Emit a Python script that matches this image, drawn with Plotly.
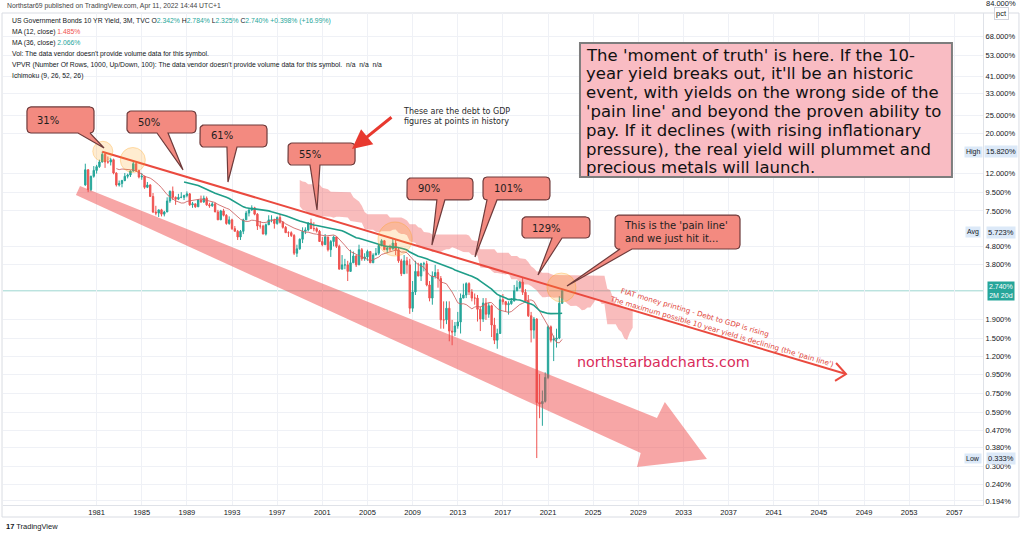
import numpy as np
import plotly.graph_objects as go

# ---------------- DATA: US 10Y yield (TVC), quarterly candles from 1980Q1 ----------------
start_year = 1980
opens = [
    10.40, 12.60, 9.80, 11.60,   12.50, 13.10, 13.90, 15.30,   13.90, 13.90, 14.30, 12.10,
    10.40, 10.60, 11.00, 11.60,  11.80, 12.40, 13.60, 12.50,   11.50, 11.60, 10.10, 10.40,
    9.00, 7.40, 7.30, 7.60,      7.20, 7.40, 8.50, 9.60,       8.90, 8.70, 8.90, 8.90,
    9.10, 9.30, 8.10, 8.20,      7.90, 8.60, 8.40, 8.80,       8.10, 8.00, 8.20, 7.40,
    6.70, 7.50, 7.10, 6.40,      6.70, 6.00, 5.80, 5.40,       5.80, 6.70, 7.30, 7.60,
    7.80, 7.20, 6.20, 6.20,      5.60, 6.30, 6.70, 6.70,       6.40, 6.90, 6.50, 6.10,
    5.70, 5.70, 5.50, 4.40,      4.65, 5.25, 5.80, 5.90,       6.45, 6.00, 6.00, 5.80,
    5.10, 4.90, 5.40, 4.60,      5.10, 5.40, 4.80, 3.60,       3.80, 3.80, 3.50, 3.90,
    4.25, 3.80, 4.60, 4.10,      4.20, 4.50, 3.90, 4.30,       4.40, 4.85, 5.15, 4.60,
    4.70, 4.65, 5.00, 4.60,      4.00, 3.40, 4.00, 3.80,       2.20, 2.70, 3.50, 3.30,
    3.85, 3.85, 2.95, 2.50,      3.30, 3.45, 3.20, 1.90,       1.90, 2.20, 1.65, 1.63,
    1.76, 1.85, 2.50, 2.60,      3.00, 2.70, 2.50, 2.50,       2.17, 1.92, 2.35, 2.04,
    2.27, 1.78, 1.47, 1.60,      2.45, 2.39, 2.30, 2.33,       2.41, 2.74, 2.86, 3.06,
    2.69, 2.41, 2.00, 1.67,      1.92, 0.67, 0.66, 0.68,       0.92, 1.74, 1.47, 1.49,
    1.51, 2.342]
highs = [
    13.60, 12.70, 11.70, 13.20,  13.40, 14.30, 15.82, 15.70,   14.90, 14.60, 14.50, 12.20,
    11.00, 11.10, 12.10, 12.00,  12.50, 13.90, 13.80, 12.60,   12.10, 11.70, 10.80, 10.50,
    9.40, 8.00, 7.60, 7.70,      7.50, 8.90, 9.70, 10.20,      9.00, 9.30, 9.50, 9.20,
    9.60, 9.40, 8.40, 8.20,      8.70, 9.10, 9.10, 9.00,       8.30, 8.40, 8.30, 7.60,
    7.60, 7.70, 7.20, 7.00,      6.80, 6.20, 5.90, 5.90,       6.80, 7.50, 7.60, 8.05,
    7.90, 7.30, 6.60, 6.30,      6.40, 7.10, 7.10, 6.80,       7.00, 7.20, 6.60, 6.20,
    5.80, 5.80, 5.60, 4.90,      5.30, 6.10, 6.10, 6.50,       6.80, 6.50, 6.10, 5.90,
    5.40, 5.60, 5.40, 5.20,      5.50, 5.40, 4.90, 4.30,       4.10, 4.00, 4.60, 4.50,
    4.30, 4.90, 4.70, 4.40,      4.60, 4.50, 4.40, 4.70,       4.90, 5.25, 5.20, 4.80,
    4.90, 5.30, 5.20, 4.70,      4.10, 4.30, 4.20, 4.10,       3.10, 4.00, 3.90, 3.90,
    3.95, 4.00, 3.10, 3.50,      3.80, 3.60, 3.30, 2.40,       2.40, 2.40, 1.90, 1.85,
    2.10, 2.65, 3.00, 3.05,      3.05, 2.80, 2.65, 2.60,       2.25, 2.50, 2.50, 2.35,
    2.30, 1.95, 1.70, 2.60,      2.63, 2.40, 2.40, 2.50,       2.95, 3.12, 3.10, 3.26,
    2.80, 2.60, 2.10, 1.97,      1.94, 0.96, 0.78, 0.98,       1.77, 1.77, 1.56, 1.70,
    2.56, 2.784]
lows = [
    10.30, 9.50, 9.60, 11.40,    12.00, 12.90, 13.80, 12.90,   13.60, 13.30, 11.90, 10.20,
    10.20, 10.10, 10.90, 11.30,  11.50, 12.30, 12.30, 11.30,   11.10, 9.90, 10.00, 9.00,
    7.30, 7.10, 6.95, 7.00,      7.00, 7.40, 8.30, 8.60,       8.10, 8.60, 8.80, 8.60,
    8.90, 8.00, 7.80, 7.80,      7.90, 8.30, 8.30, 8.00,       7.80, 7.90, 7.40, 6.70,
    6.70, 7.00, 6.30, 6.30,      5.90, 5.80, 5.20, 5.20,       5.60, 6.70, 7.00, 7.50,
    7.10, 5.90, 6.00, 5.60,      5.50, 6.30, 6.50, 6.00,       6.30, 6.40, 6.00, 5.70,
    5.40, 5.40, 4.30, 4.20,      4.60, 5.00, 5.60, 5.80,       6.00, 5.80, 5.70, 5.10,
    4.80, 4.90, 4.50, 4.20,      4.80, 4.70, 3.60, 3.60,       3.60, 3.10, 3.50, 3.90,
    3.70, 3.80, 4.00, 4.00,      4.00, 3.90, 3.90, 4.30,       4.30, 4.80, 4.60, 4.40,
    4.50, 4.60, 4.30, 3.90,      3.30, 3.40, 3.40, 2.05,       2.10, 2.60, 3.30, 3.10,
    3.50, 2.90, 2.40, 2.30,      3.20, 2.85, 1.70, 1.70,       1.80, 1.45, 1.38, 1.55,
    1.70, 1.60, 2.50, 2.50,      2.60, 2.40, 2.30, 1.86,       1.65, 1.85, 1.90, 1.95,
    1.53, 1.40, 1.32, 1.60,      2.30, 2.10, 2.03, 2.30,       2.40, 2.73, 2.80, 2.60,
    2.37, 1.97, 1.43, 1.50,      0.333, 0.55, 0.50, 0.67,      0.90, 1.43, 1.13, 1.34,
    1.49, 2.325]
closes = [
    12.60, 9.80, 11.60, 12.50,   13.10, 13.90, 15.30, 13.90,   13.90, 14.30, 12.10, 10.40,
    10.60, 11.00, 11.60, 11.80,  12.40, 13.60, 12.50, 11.50,   11.60, 10.10, 10.40, 9.00,
    7.40, 7.30, 7.60, 7.20,      7.40, 8.50, 9.60, 8.90,       8.70, 8.90, 8.90, 9.10,
    9.30, 8.10, 8.20, 7.90,      8.60, 8.40, 8.80, 8.10,       8.00, 8.20, 7.40, 6.70,
    7.50, 7.10, 6.40, 6.70,      6.00, 5.80, 5.40, 5.80,       6.70, 7.30, 7.60, 7.80,
    7.20, 6.20, 6.20, 5.60,      6.30, 6.70, 6.70, 6.40,       6.90, 6.50, 6.10, 5.70,
    5.70, 5.50, 4.40, 4.65,      5.25, 5.80, 5.90, 6.45,       6.00, 6.00, 5.80, 5.10,
    4.90, 5.40, 4.60, 5.10,      5.40, 4.80, 3.60, 3.80,       3.80, 3.50, 3.90, 4.25,
    3.80, 4.60, 4.10, 4.20,      4.50, 3.90, 4.30, 4.40,       4.85, 5.15, 4.60, 4.70,
    4.65, 5.00, 4.60, 4.00,      3.40, 4.00, 3.80, 2.20,       2.70, 3.50, 3.30, 3.85,
    3.85, 2.95, 2.50, 3.30,      3.45, 3.20, 1.90, 1.90,       2.20, 1.65, 1.63, 1.76,
    1.85, 2.50, 2.60, 3.00,      2.70, 2.50, 2.50, 2.17,       1.92, 2.35, 2.04, 2.27,
    1.78, 1.47, 1.60, 2.45,      2.39, 2.30, 2.33, 2.41,       2.74, 2.86, 3.06, 2.69,
    2.41, 2.00, 1.67, 1.92,      0.67, 0.66, 0.68, 0.92,       1.74, 1.47, 1.49, 1.51,
    2.342, 2.740]

year_ticks = [1981, 1985, 1989, 1993, 1997, 2001, 2005, 2009, 2013, 2017, 2021,
              2025, 2029, 2033, 2037, 2041, 2045, 2049, 2053, 2057]
price_ticks = [68, 53, 41, 33, 25, 20, 12, 9.5, 7.5, 4.8, 3.8, 1.9, 1.5, 1.2,
               0.95, 0.75, 0.59, 0.47, 0.38, 0.30, 0.24, 0.194]
high_val, avg_val, low_val, last_val = 15.820, 5.723, 0.333, 2.740

# axis ranges (x in years, y in log10 pct) and plot size
X_RANGE = [1972.707, 2059.54]
Y_RANGE = [-0.7346, 1.9584]
PLOT_W, PLOT_H = 980, 492

# ---------------- derived indicators ----------------
n = len(closes)
bar_x = np.array([start_year + i * 0.25 for i in range(n)])
C = np.array(closes); H = np.array(highs); L = np.array(lows)

def sma(p):
    return bar_x[p - 1:], [C[i - p + 1:i + 1].mean() for i in range(p - 1, n)]

def donch(p, i):
    return (H[i - p + 1:i + 1].max() + L[i - p + 1:i + 1].min()) / 2

idx = range(51, n)
span_a = np.array([(donch(9, i) + donch(26, i)) / 2 for i in idx])
span_b = np.array([donch(52, i) for i in idx])
cloud_x = [start_year + (i + 25) * 0.25 for i in idx]
cloud_hi = np.maximum(span_a, span_b)
cloud_lo = np.minimum(span_a, span_b)

# helpers to round drawing corners using the axis scale
SX = PLOT_W / (X_RANGE[1] - X_RANGE[0])
SY = PLOT_H / (Y_RANGE[1] - Y_RANGE[0])

def to_px(x, v):
    return (x - X_RANGE[0]) * SX, (Y_RANGE[1] - np.log10(v)) * SY

def from_px(px, py):
    return X_RANGE[0] + px / SX, 10 ** (Y_RANGE[1] - py / SY)

def callout_poly(xl, xr, yt, yb, b0, b1, tx, ty, r=4.0):
    pl, pt = to_px(xl, yt); pr, pb = to_px(xr, yb)
    q0, _ = to_px(b0, yb); q1, _ = to_px(b1, yb); tpx, tpy = to_px(tx, ty)
    pts = []
    def arc(cx, cy, a0, a1):
        for a in np.linspace(np.radians(a0), np.radians(a1), 6):
            pts.append((cx + r * np.cos(a), cy + r * np.sin(a)))
    arc(pr - r, pt + r, -90, 0)
    arc(pr - r, pb - r, 0, 90)
    pts += [(q1, pb), (tpx, tpy), (q0, pb)]
    arc(pl + r, pb - r, 90, 180)
    arc(pl + r, pt + r, 180, 270)
    pts.append(pts[0])
    xs, ys = zip(*[from_px(a, b) for a, b in pts])
    return list(xs), list(ys)

fig = go.Figure()

# Ichimoku cloud
fig.add_trace(go.Scatter(x=cloud_x, y=cloud_lo, mode='lines', line=dict(width=0, color='rgba(0,0,0,0)'),
                         hoverinfo='skip'))
fig.add_trace(go.Scatter(x=cloud_x, y=cloud_hi, mode='lines', line=dict(width=0, color='rgba(0,0,0,0)'),
                         fill='tonexty', fillcolor='rgba(240,80,80,0.38)', hoverinfo='skip'))

# big translucent down arrow (drawing), anchored in (year, pct)
arrow_x = [1979.53, 2030.65, 2031.35, 2035.08, 2028.88, 2029.21, 1979.17, 1979.53]
arrow_y = [10.27, 0.5515, 0.6748, 0.3290, 0.2974, 0.3548, 9.167, 10.27]
fig.add_trace(go.Scatter(x=arrow_x, y=arrow_y, mode='lines', fill='toself',
                         fillcolor='rgba(238,70,70,0.48)', line=dict(width=0, color='rgba(0,0,0,0)'),
                         hoverinfo='skip'))

# candles
fig.add_trace(go.Candlestick(x=bar_x, open=opens, high=highs, low=lows, close=closes,
                             increasing=dict(line=dict(color='#26a69a', width=1), fillcolor='#26a69a'),
                             decreasing=dict(line=dict(color='#ef5350', width=1), fillcolor='#ef5350'),
                             whiskerwidth=0, hoverinfo='skip'))

# moving averages
mx, my = sma(12)
fig.add_trace(go.Scatter(x=mx, y=my, mode='lines', line=dict(color='rgba(205,95,95,0.85)', width=1)))
mx, my = sma(36)
fig.add_trace(go.Scatter(x=mx, y=my, mode='lines', line=dict(color='#1f9e89', width=1.6)))

# "pain line" with arrow chevron
fig.add_trace(go.Scatter(x=[1981.5, 2047.40], y=[15.82, 0.960], mode='lines',
                         line=dict(color='#ea4a3f', width=2)))
fig.add_trace(go.Scatter(x=[2046.52, 2047.40, 2046.43], y=[1.103, 0.960, 0.880], mode='lines',
                         line=dict(color='#ea4a3f', width=2)))

# orange highlight circles
fig.add_trace(go.Scatter(x=[1981.55, 1984.21, 2007.44, 2022.19], y=[15.9, 14.25, 5.265, 2.857],
                         mode='markers',
                         marker=dict(size=[20, 25, 34, 29], color='rgba(255,167,38,0.30)',
                                     line=dict(color='rgba(255,152,0,0.45)', width=1))))

# callouts: (left, right, top, bottom, tail base left, tail base right, tip x, tip y)
callouts = [
    (1974.83, 1980.77, 27.80, 20.03, 1979.35, 1980.42, 1981.66, 16.58),
    (1983.69, 1989.81, 26.42, 20.03, 1986.35, 1987.33, 1988.66, 12.57),
    (1990.16, 1996.10, 22.15, 16.79, 1992.55, 1993.44, 1992.64, 10.80),
    (1997.96, 2003.90, 17.65, 13.38, 1999.91, 2000.79, 2000.53, 7.59),
    (2008.50, 2014.35, 11.36, 8.61, 2011.15, 2011.86, 2010.71, 4.88),
    (2015.24, 2021.17, 11.50, 8.61, 2015.59, 2016.48, 2014.53, 4.20),
    (2018.69, 2024.71, 6.95, 5.33, 2021.35, 2022.24, 2020.11, 3.345),
    (2026.93, 2038.01, 7.12, 4.64, 2027.38, 2028.44, 2022.68, 2.911),
]
callout_text = ['31%', '50%', '61%', '55%', '90%', '101%', '129%',
                "This is the 'pain line'<br>and we just hit it..."]
callout_text_pos = [(1975.54, 1.3727), (1984.49, 1.3618), (1990.96, 1.2852), (1998.76, 1.1866),
                    (2009.30, 0.9951), (2016.03, 1.0005), (2019.40, 0.7816), (2027.55, 0.7597)]
for c in callouts:
    px_, py_ = callout_poly(*c)
    fig.add_trace(go.Scatter(x=px_, y=py_, mode='lines', fill='toself', fillcolor='#f38a80',
                             line=dict(color='#6e3b3b', width=1.2), hoverinfo='skip'))

for t, (tx, ty) in zip(callout_text, callout_text_pos):
    fig.add_annotation(x=tx, y=ty, xref='x', yref='y', text=t, showarrow=False, xanchor='left',
                       yanchor='middle', align='left',
                       font=dict(family='DejaVu Sans', size=10, color='#1e1e1e'))

# current price line
fig.add_shape(type='line', xref='paper', x0=0, x1=1, yref='y', y0=last_val, y1=last_val,
              line=dict(color='rgba(38,166,154,0.45)', width=1), layer='below')

# debt to GDP red arrow + label
fig.add_annotation(x=2003.63, y=1.2140, ax=2007.26, ay=1.3946, axref='x', ayref='y', xref='x', yref='y',
                   text='', showarrow=True, arrowhead=2, arrowsize=1.3, arrowwidth=3, arrowcolor='#e8392f')
fig.add_annotation(x=2007.97, y=1.3946, xref='x', yref='y', xanchor='left', yanchor='middle', align='left',
                   text='These are the debt to GDP<br>figures at points in history', showarrow=False,
                   font=dict(family='DejaVu Sans', size=8, color='#2a2a2a'))

# big text box: frame + one annotation per line
fig.add_shape(type='rect', xref='x', yref='y', x0=2023.83, x1=2056.79, y0=11.50, y1=62.27,
              fillcolor='#f9bcc3', line=dict(color='#7d7d7d', width=2), layer='above')
box_lines = ["The 'moment of truth' is here. If the 10-",
             "year yield breaks out, it'll be an historic",
             "event, with yields on the wrong side of the",
             "'pain line' and beyond the proven ability to",
             "pay. If it declines (with rising inflationary",
             "pressure), the real yield will plummet and",
             "precious metals will launch."]
box_line_y = [1.7285, 1.6256, 1.5227, 1.4198, 1.3169, 1.2140, 1.1111]
for t, ly in zip(box_lines, box_line_y):
    fig.add_annotation(x=2024.20, y=ly, xref='x', yref='y', xanchor='left', yanchor='middle', text=t,
                       showarrow=False, font=dict(family='DejaVu Sans', size=16.5, color='#111111'))

# rotated red texts along pain line
fig.add_annotation(x=2034.02, y=0.3218, xref='x', yref='y', text='FIAT money printing - Debt to GDP is rising',
                   showarrow=False, textangle=16.5, font=dict(family='DejaVu Sans', size=7.2, color='#e0453a'))
fig.add_annotation(x=2036.41, y=0.2178, xref='x', yref='y',
                   text="The maximum possible 10 year yield is declining (the 'pain line')",
                   showarrow=False, textangle=16.5, font=dict(family='DejaVu Sans', size=7.2, color='#e0453a'))

# site text
fig.add_annotation(x=2031.19, y=0.0482, xref='x', yref='y', text='northstarbadcharts.com', showarrow=False,
                   font=dict(family='DejaVu Sans', size=14.3, color='#d92b5a'))

# ---------------- header / legend texts ----------------
teal = '#26a69a'; red = '#ef5350'; dark = '#131722'
legend_lines = [
    ("US Government Bonds 10 YR Yield, 3M, TVC "
     f"O<span style='color:{teal}'>2.342%</span> H<span style='color:{teal}'>2.784%</span> "
     f"L<span style='color:{teal}'>2.325%</span> C<span style='color:{teal}'>2.740%</span> "
     f"<span style='color:{teal}'>+0.398% (+16.99%)</span>"),
    f"MA (12, close) <span style='color:{red}'>1.485%</span>",
    f"MA (36, close) <span style='color:{teal}'>2.066%</span>",
    "Vol: The data vendor doesn't provide volume data for this symbol.",
    "VPVR (Number Of Rows, 1000, Up/Down, 100): The data vendor doesn't provide volume data for this symbol.  n/a  n/a  n/a",
    "Ichimoku (9, 26, 52, 26)",
]
for k, t in enumerate(legend_lines):
    fig.add_annotation(x=0.0071, y=0.9837 - k * 0.02236, xref='paper', yref='paper', text=t, showarrow=False,
                       xanchor='left', yanchor='middle', font=dict(family='Liberation Sans', size=6.8, color=dark))
fig.add_annotation(x=0.002, y=1.0142, xref='paper', yref='paper', xanchor='left', yanchor='middle',
                   text='Northstar69 published on TradingView.com, Apr 11, 2022 14:44 UTC+1', showarrow=False,
                   font=dict(family='Liberation Sans', size=6.8, color='#444'))
fig.add_annotation(x=0.001, y=-0.0447, xref='paper', yref='paper', xanchor='left', yanchor='middle',
                   text='<b>17</b> TradingView', showarrow=False,
                   font=dict(family='Liberation Sans', size=7.5, color='#131722'))

# price scale tags
ax_x = 1.0184
for name, v in [('High', high_val), ('Avg', avg_val), ('Low', low_val)]:
    fig.add_annotation(x=ax_x, y=np.log10(v), xref='paper', yref='y', text=f"{v:.3f}%", showarrow=False,
                       xanchor='center', yanchor='middle', bgcolor='#dce9f8', borderpad=1,
                       font=dict(family='Liberation Sans', size=7.5, color=dark))
    fig.add_annotation(x=0.9898, y=np.log10(v), xref='paper', yref='y', text=name, showarrow=False,
                       xanchor='center', yanchor='middle', bgcolor='#dce9f8', borderpad=1,
                       font=dict(family='Liberation Sans', size=7, color=dark))
fig.add_annotation(x=ax_x, y=np.log10(last_val), xref='paper', yref='y', text=f"{last_val:.3f}%<br>2M 20d",
                   showarrow=False, xanchor='center', yanchor='middle', bgcolor=teal, borderpad=1,
                   font=dict(family='Liberation Sans', size=7, color='white'))
fig.add_annotation(x=ax_x, y=1.0183, xref='paper', yref='paper', text='84.000%', showarrow=False,
                   xanchor='center', yanchor='middle', font=dict(family='Liberation Sans', size=7.5, color=dark))
fig.add_annotation(x=ax_x, y=0.999, xref='paper', yref='paper', text='pct', showarrow=False,
                   xanchor='center', yanchor='middle', bgcolor='white', bordercolor='#d1d4dc',
                   borderwidth=1, borderpad=1, font=dict(family='Liberation Sans', size=7.5, color=dark))

# outer frame
fig.add_shape(type='rect', xref='paper', yref='paper', x0=-0.001, x1=1.0367, y0=-0.0244, y1=1.0,
              line=dict(color='#d9dce3', width=1), layer='below')

fig.update_layout(
    width=1024, height=538, margin=dict(l=3, r=41, t=13, b=33),
    paper_bgcolor='white', plot_bgcolor='white', showlegend=False,
    xaxis=dict(range=X_RANGE, tickvals=year_ticks, ticktext=[str(v) for v in year_ticks],
               showgrid=True, gridcolor='#eff1f6', zeroline=False, showline=True, linecolor='#dfe2e8',
               ticks='', tickfont=dict(family='Liberation Sans', size=7.5, color=dark),
               rangeslider=dict(visible=False)),
    yaxis=dict(type='log', side='right', range=Y_RANGE, tickvals=price_ticks,
               ticktext=[f"{v:.3f}%" for v in price_ticks], showgrid=True, gridcolor='#eff1f6',
               zeroline=False, showline=True, linecolor='#dfe2e8', ticks='',
               tickfont=dict(family='Liberation Sans', size=7.5, color=dark)),
)

fig.write_html("out.html", config={'displayModeBar': False},
               post_script="document.body.style.margin='0';")
